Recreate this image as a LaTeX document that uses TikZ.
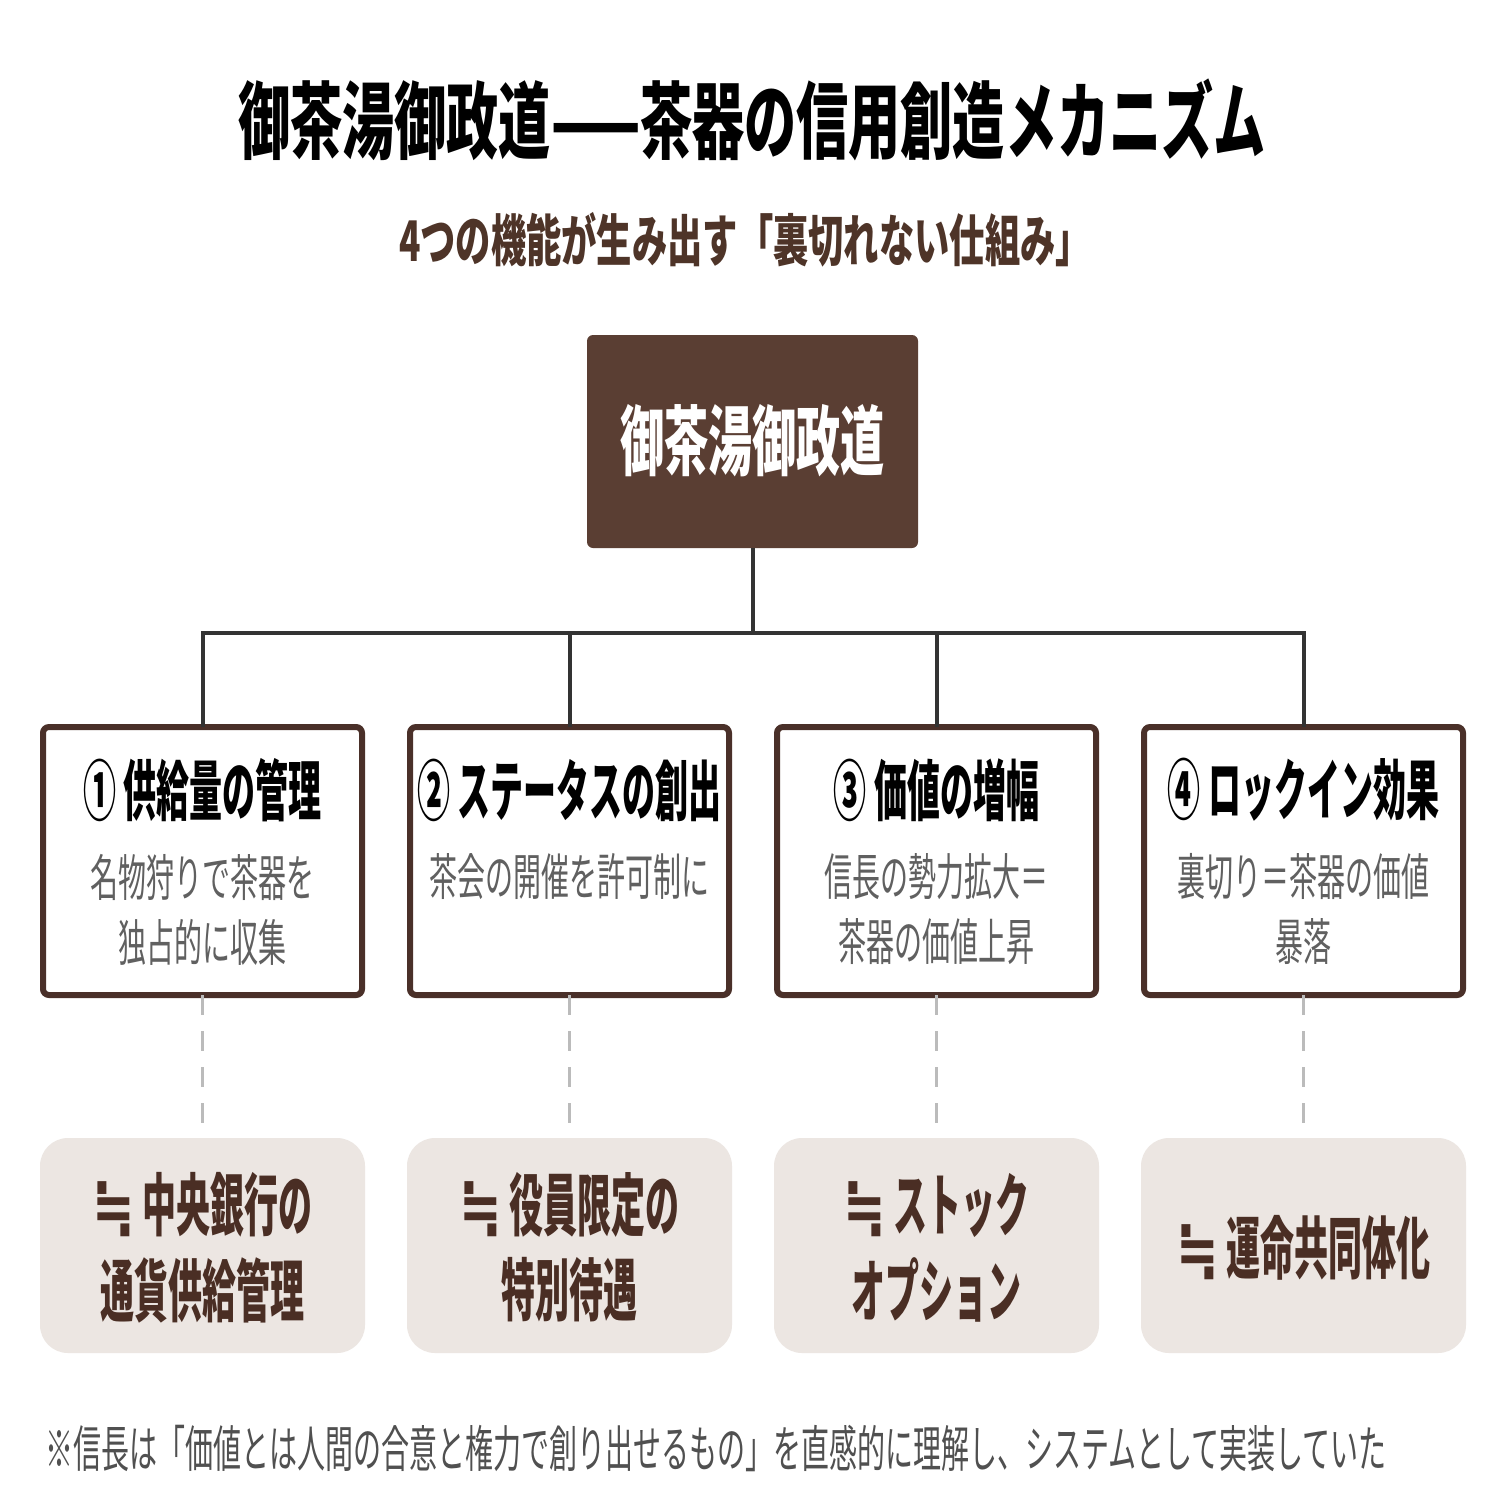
\documentclass[tikz,border=0pt]{standalone}
\usepackage{fontspec}
\newfontfamily\fT{Noto Sans CJK JP}[FakeStretch=0.62]
\newfontfamily\fS{Noto Sans CJK JP}[FakeStretch=0.63]
\newfontfamily\fM{Noto Sans CJK JP}[FakeStretch=0.58]
\newfontfamily\fH{Noto Sans CJK JP}[FakeStretch=0.5]
\newfontfamily\fB{Noto Sans CJK JP}[FakeStretch=0.56]
\newfontfamily\fSym{DejaVu Sans}[FakeStretch=0.75]
\newcommand{\approxeq}{{\fSym\bfseries ≒}}
\definecolor{topfill}{HTML}{5A3E33}
\definecolor{boxline}{HTML}{4A3029}
\definecolor{eqfill}{HTML}{ECE6E2}
\definecolor{eqtext}{HTML}{4A2E24}
\definecolor{subbrown}{HTML}{4E3428}
\definecolor{bodygray}{HTML}{606060}
\definecolor{notegray}{HTML}{505050}
\definecolor{conn}{HTML}{333333}
\definecolor{dashgray}{HTML}{BBBBBB}
\begin{document}
\begin{tikzpicture}[x=0.5pt,y=-0.5pt,
  topbox/.style={fill=topfill,rounded corners=3pt,minimum width=165.5pt,minimum height=106.5pt,inner sep=0pt},
  funcbox/.style={draw=boxline,line width=3pt,fill=white,rounded corners=3pt,minimum width=159.5pt,minimum height=134pt,inner sep=0pt},
  eqbox/.style={fill=eqfill,rounded corners=14pt,minimum width=162.5pt,minimum height=107.5pt,inner sep=0pt},
  headtxt/.style={font=\fH\bfseries\fontsize{33pt}{36pt}\selectfont,text=black,inner sep=0pt},
  bodytxt/.style={font=\fB\fontsize{25pt}{28pt}\selectfont,text=bodygray,inner sep=0pt},
  eqtxt/.style={font=\fH\bfseries\fontsize{34pt}{36pt}\selectfont,text=eqtext,inner sep=0pt},
  connline/.style={draw=conn,line width=2pt},
  dashline/.style={draw=dashgray,line width=1.5pt,dash pattern=on 10pt off 8pt}
]
\useasboundingbox (0,0) rectangle (1504,1504);
\fill[white] (0,0) rectangle (1504,1504);

% titles
\node[font=\fT\bfseries\fontsize{42pt}{46pt}\selectfont,inner sep=0pt] (title) at (752,120) {御茶湯御政道——茶器の信用創造メカニズム};
\node[font=\fS\bfseries\fontsize{28pt}{30pt}\selectfont,text=subbrown,inner sep=0pt] (subtitle) at (745,240) {4つの機能が生み出す「裏切れない仕組み」};

% top box
\node[topbox] (top) at (752.5,441.5) {};
\node[font=\fM\bfseries\fontsize{38pt}{40pt}\selectfont,text=white,inner sep=0pt] (toptxt) at (752.5,441) {御茶湯御政道};

% function boxes
\node[funcbox] (b1) at (202.5,861) {};
\node[funcbox] (b2) at (569.5,861) {};
\node[funcbox] (b3) at (936.5,861) {};
\node[funcbox] (b4) at (1303.5,861) {};

% bus
\coordinate (bus) at (752.5,633);
\draw[connline] (top.south) -- (bus);
\draw[connline] ([yshift=-1.5pt]b1.north) |- (bus) -| ([yshift=-1.5pt]b4.north);
\draw[connline] ([yshift=-1.5pt]b2.north) -- (b2.north |- bus);
\draw[connline] ([yshift=-1.5pt]b3.north) -- (b3.north |- bus);

% heads
\node[headtxt] (h1) at (202.5,790) {① 供給量の管理};
\node[headtxt] (h2) at (569.5,790) {② ステータスの創出};
\node[headtxt] (h3) at (936.5,790) {③ 価値の増幅};
\node[headtxt] (h4) at (1303.5,790) {④ ロックイン効果};

% bodies
\node[bodytxt] (t1a) at (202.5,877) {名物狩りで茶器を};
\node[bodytxt] (t1b) at (202.5,942) {独占的に収集};
\node[bodytxt] (t2a) at (569.5,877) {茶会の開催を許可制に};
\node[bodytxt] (t3a) at (936.5,877) {信長の勢力拡大＝};
\node[bodytxt] (t3b) at (936.5,942) {茶器の価値上昇};
\node[bodytxt] (t4a) at (1303.5,877) {裏切り＝茶器の価値};
\node[bodytxt] (t4b) at (1303.5,942) {暴落};

% equivalence boxes
\node[eqbox] (e1) at (202.5,1245.5) {};
\node[eqbox] (e2) at (569.5,1245.5) {};
\node[eqbox] (e3) at (936.5,1245.5) {};
\node[eqbox] (e4) at (1303.5,1245.5) {};

\foreach \i in {1,2,3,4} {\draw[dashline] ([yshift=1.5pt]b\i.south) -- (e\i.north);}

\node[eqtxt] (q1a) at (202.5,1205) {\approxeq\ 中央銀行の};
\node[eqtxt] (q1b) at (202.5,1290) {通貨供給管理};
\node[eqtxt] (q2a) at (569.5,1205) {\approxeq\ 役員限定の};
\node[eqtxt] (q2b) at (569.5,1290) {特別待遇};
\node[eqtxt] (q3a) at (936.5,1205) {\approxeq\ ストック};
\node[eqtxt] (q3b) at (936.5,1290) {オプション};
\node[eqtxt] (q4a) at (1303.5,1248) {\approxeq\ 運命共同体化};

% note
\node[font=\fB\fontsize{25pt}{28pt}\selectfont,text=notegray,inner sep=0pt,anchor=west] (note) at (45,1448) {※信長は「価値とは人間の合意と権力で創り出せるもの」を直感的に理解し、システムとして実装していた};
\end{tikzpicture}
\end{document}
